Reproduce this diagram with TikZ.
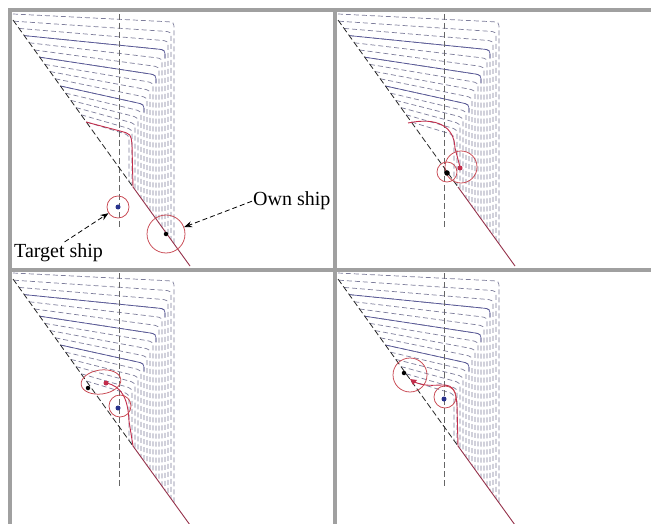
\documentclass[tikz,border=0pt]{standalone}
\usepackage{fontspec}
\setmainfont{Liberation Serif}
\usetikzlibrary{arrows.meta,shapes.geometric}
\definecolor{framegray}{RGB}{160,160,160}
\definecolor{fieldgray}{RGB}{125,125,155}
\definecolor{fieldblue}{RGB}{85,85,150}
\definecolor{pathred}{RGB}{195,45,75}
\definecolor{diagred}{RGB}{150,50,75}
\definecolor{shipblue}{RGB}{40,50,140}
\definecolor{circred}{RGB}{200,70,80}
\tikzset{
  field/.style={draw=fieldgray, line width=0.7pt, dash pattern=on 5pt off 3pt},
  fieldsolid/.style={draw=fieldblue, line width=0.7pt},
  axisline/.style={draw=black!60, line width=0.7pt, dash pattern=on 6pt off 3pt},
  diagdash/.style={draw=black!85, line width=0.8pt, dash pattern=on 6pt off 3pt},
  diagsolid/.style={draw=diagred, line width=0.9pt},
  track/.style={draw=pathred, line width=0.9pt},
  zone/.style={draw=circred, line width=0.75pt, circle, inner sep=0pt},
  zoneell/.style={draw=circred, line width=0.75pt, ellipse, inner sep=0pt},
  dotk/.style={fill=black, circle, inner sep=0pt, minimum size=4.5pt},
  dotb/.style={fill=shipblue, circle, inner sep=0pt, minimum size=5pt},
  dotr/.style={fill=pathred, circle, inner sep=0pt, minimum size=5pt},
  shiplabel/.style={font=\fontsize{20}{24}\selectfont, inner sep=0pt},
  callout/.style={draw=black, line width=0.8pt, dash pattern=on 5pt off 3pt, -{Stealth[length=8pt,width=6pt]}},
  frameline/.style={draw=framegray, line width=4pt}
}
\newcommand\shipfield{%
  \foreach \i in {0,...,15}{%
    \pgfmathsetmacro\yo{14+\i*7.2}%
    \pgfmathsetmacro\xo{max(13,13+(\yo-20)/1.39)}%
    \pgfmathsetmacro\xc{174-\i*3}%
    \pgfmathsetmacro\slp{0.05+\i*0.017}%
    \pgfmathsetmacro\yc{\yo+\slp*(\xc-\xo)}%
    \pgfmathsetmacro\ye{20+(\xc-13)*1.39}%
    \draw[field] (\xo,\yo) -- (\xc-8,\yc-\slp*8) .. controls (\xc,\yc) .. (\xc,\yc+8) -- (\xc,\ye);
  }%
  \foreach \i in {3,6,10}{%
    \pgfmathsetmacro\yo{14+\i*7.2}%
    \pgfmathsetmacro\xo{max(13,13+(\yo-20)/1.39)}%
    \pgfmathsetmacro\xc{174-\i*3}%
    \pgfmathsetmacro\slp{0.05+\i*0.017}%
    \pgfmathsetmacro\yc{\yo+\slp*(\xc-\xo)}%
    \draw[fieldsolid] (\xo,\yo) -- (\xc-8,\yc-\slp*8) .. controls (\xc,\yc) .. (\xc,\yc+8);
  }%
  \draw[axisline] (119,14) -- (119,227);
  \draw[diagdash] (13,20) -- (133,187);
  \draw[diagsolid] (133,187) -- (190,266);
}
\begin{document}
\begin{tikzpicture}[x=1pt,y=-1pt]
\useasboundingbox (0,0) rectangle (651,524);
\fill[white] (0,0) rectangle (651,524);

% panel 1
\begin{scope}
  \shipfield
  \draw[track] (86,122) -- (120,131) .. controls (131,134) .. (132,145) -- (133,187);
  \node[zone, minimum size=38pt] (own1) at (166,234) {};
  \node[dotk] (ownd1) at (166,234) {};
  \node[zone, minimum size=22pt] (tgt1) at (118,207) {};
  \node[dotb] (tgtd1) at (118,207) {};
  \node[shiplabel, anchor=base west] (ownlbl) at (253,206) {Own ship};
  \node[shiplabel, anchor=base west] (tgtlbl) at (14,257) {Target ship};
  \draw[callout] ([xshift=-1pt]ownlbl.west) -- (own1);
  \draw[callout] ([xshift=6pt,yshift=1pt]tgtlbl.north) -- (tgt1);
\end{scope}

% panel 2
\begin{scope}[shift={(325,0)}]
  \shipfield
  \draw[track] (83,123) .. controls (112,117) and (129,126) .. (130,148) -- (135,167);
  \node[zone, minimum size=20pt] (tgt2) at (122,172) {};
  \node[zone, minimum size=32pt] (own2) at (136,167) {};
  \node[dotk, minimum size=5.5pt] (tgtd2) at (122,173) {};
  \node[dotr] (ownd2) at (135,168) {};
\end{scope}

% panel 3
\begin{scope}[shift={(0,259)}]
  \shipfield
  \draw[track] (106,124) .. controls (122,127) and (128,140) .. (129,162) -- (133,187);
  \node[zoneell, minimum width=40pt, minimum height=24pt, rotate=8] (own3) at (101,123) {};
  \node[dotr] (ownd3) at (106,124) {};
  \node[dotk] (oldd3) at (88,129) {};
  \node[zone, minimum size=22pt] (tgt3) at (120,147) {};
  \node[dotb] (tgtd3) at (118,149) {};
\end{scope}

% panel 4
\begin{scope}[shift={(325,259)}]
  \shipfield
  \draw[track] (87,122) .. controls (100,128) and (108,126) .. (118,126) .. controls (129,126) and (131,133) .. (132,146) -- (133,187);
  \node[zone, minimum size=34pt] (own4) at (85,116) {};
  \node[dotk] (oldd4) at (79,114) {};
  \fill[pathred] (85,120) -- (92,121) -- (88,126) -- cycle;
  \node[zone, minimum size=22pt] (tgt4) at (120,138) {};
  \node[dotb] (tgtd4) at (119,140) {};
\end{scope}

% frame
\draw[frameline] (8,10.5) -- (651,10.5);
\draw[frameline] (9.5,9) -- (9.5,524);
\draw[frameline] (334.5,9) -- (334.5,524);
\draw[frameline] (8,269.5) -- (651,269.5);
\end{tikzpicture}
\end{document}
